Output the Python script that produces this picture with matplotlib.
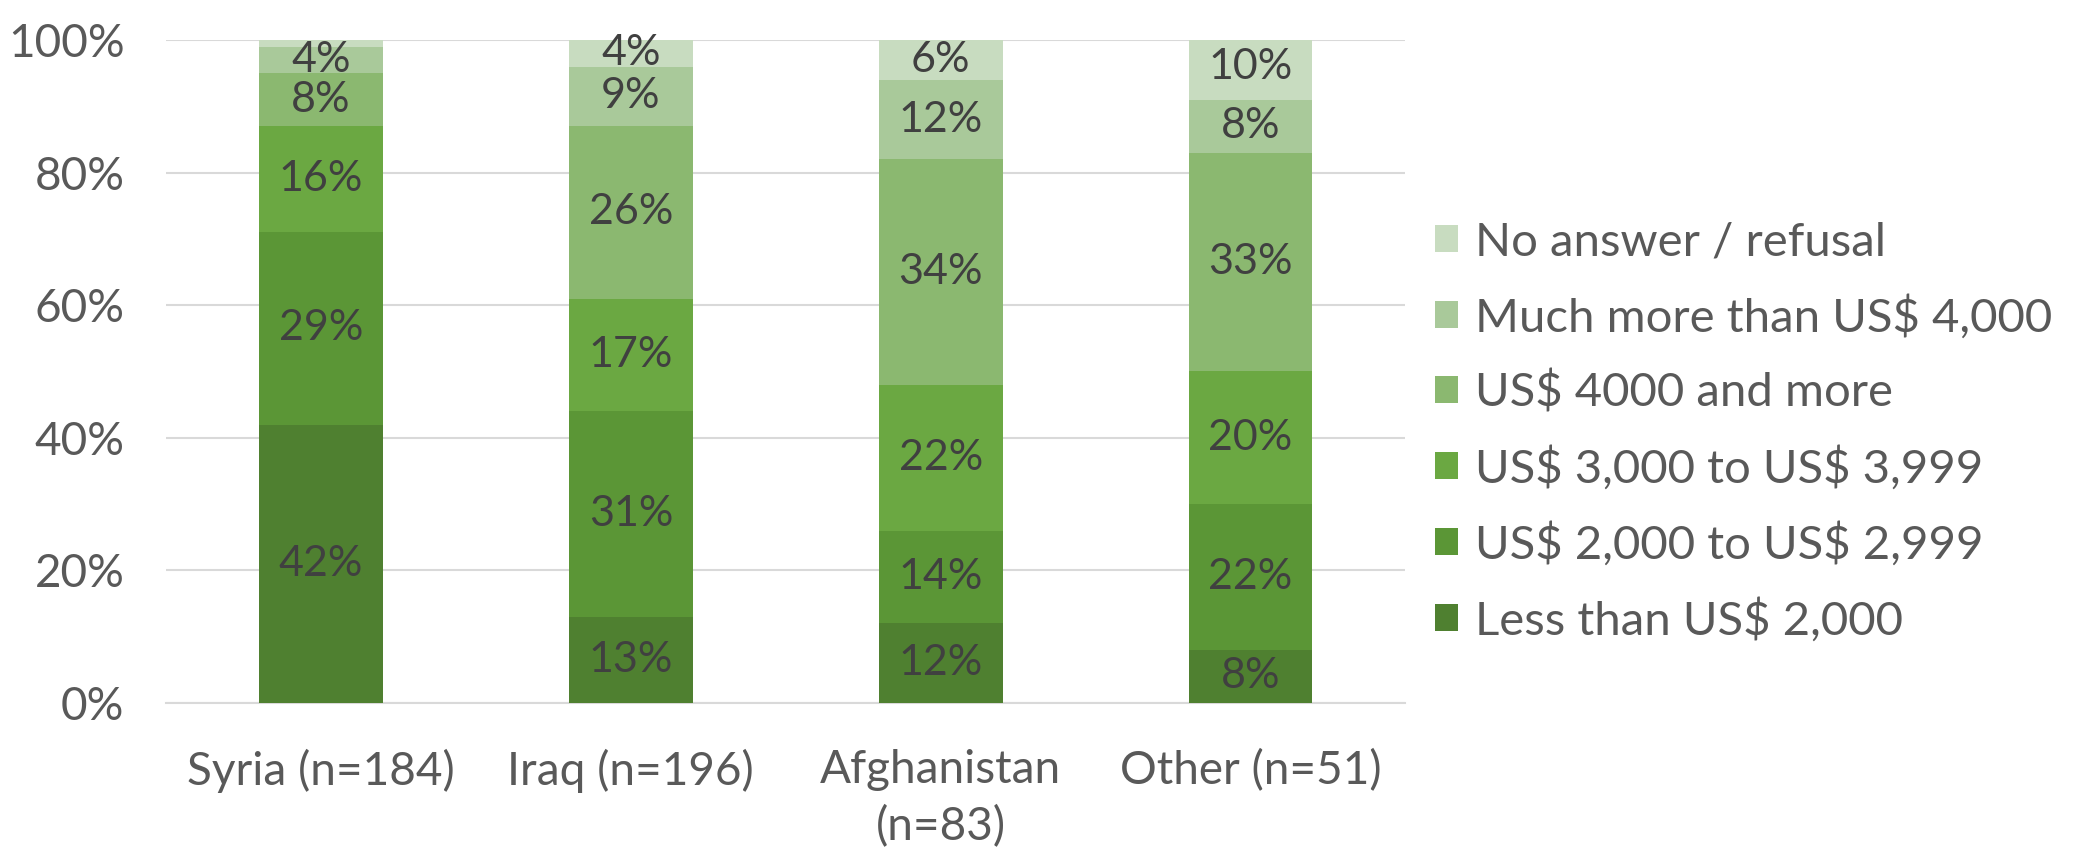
import numpy as np
import matplotlib
matplotlib.use("Agg")
import matplotlib.pyplot as plt
from matplotlib.ticker import FuncFormatter

# categories and series (percent of respondents)
countries = ["Syria (n=184)", "Iraq (n=196)", "Afghanistan\n(n=83)", "Other (n=51)"]
series_names = ["Less than US$ 2,000", "US$ 2,000 to US$ 2,999", "US$ 3,000 to US$ 3,999",
                "US$ 4000 and more", "Much more than US$ 4,000", "No answer / refusal"]
less_2000 = [42, 13, 12, 8]
from_2000 = [29, 31, 14, 22]
from_3000 = [16, 17, 22, 20]
over_4000 = [8, 26, 34, 33]
much_more = [4, 9, 12, 8]
no_answer = [1, 4, 6, 10]
series = [less_2000, from_2000, from_3000, over_4000, much_more, no_answer]

colors = ["#4f8030", "#5b9636", "#6ba842", "#8bb870", "#a9c99a", "#c8dcc0"]

plt.rcParams['font.family'] = ['Lato', 'DejaVu Sans']
plt.rcParams['text.parse_math'] = False  # labels contain '$'

fig = plt.figure(figsize=(20.76, 8.52), dpi=100)
ax = fig.add_axes([0.080, 0.175, 0.597, 0.778])

x = np.arange(len(countries))
bottom = np.zeros(len(countries))
for name, vals, col in zip(series_names, series, colors):
    vals = np.array(vals, dtype=float)
    ax.bar(x, vals, 0.4, bottom=bottom, color=col, label=name, zorder=3)
    for xi, v, bt in zip(x, vals, bottom):
        if v >= 2:  # the 1% sliver has no label
            ax.text(xi, bt + v / 2, "%d%%" % v, ha="center", va="center",
                    fontsize=31, color="#404040", zorder=4)
    bottom += vals

ax.set_xlim(-0.5, 3.5)
ax.set_ylim(0, 100)
ax.set_yticks(range(0, 101, 20))
ax.yaxis.set_major_formatter(FuncFormatter(lambda v, p: "%d%%" % v))
ax.set_xticks(x)
ax.set_xticklabels(countries, linespacing=1.4)
ax.tick_params(axis="both", length=0, labelsize=33, labelcolor="#595959")
ax.tick_params(axis="x", pad=33)
ax.tick_params(axis="y", pad=30)
ax.grid(axis="y", color="#d9d9d9", linewidth=1.5, zorder=0)
for s in ["top", "right", "left"]:
    ax.spines[s].set_visible(False)
ax.spines["bottom"].set_color("#d9d9d9")
ax.spines["bottom"].set_linewidth(1.5)

handles, labels = ax.get_legend_handles_labels()
fig.legend(handles[::-1], labels[::-1], loc="center left",
           bbox_to_anchor=(0.691, 0.493), frameon=False, fontsize=34,
           labelcolor="#595959", handlelength=0.5, handleheight=0.5,
           handletextpad=0.35, labelspacing=0.66, borderpad=0, borderaxespad=0)

fig.savefig("out.png", dpi=100)
